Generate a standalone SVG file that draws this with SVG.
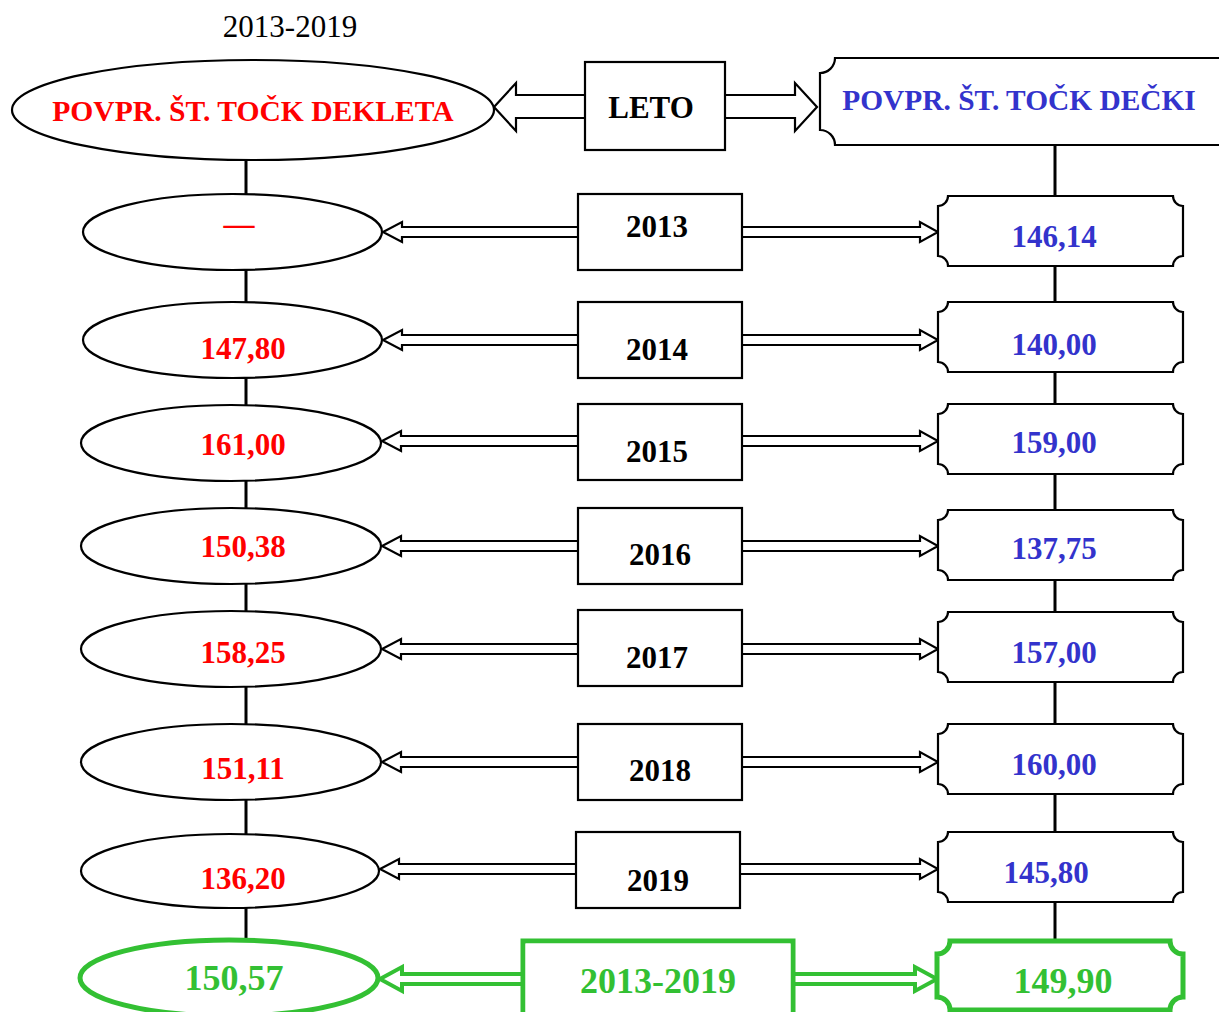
<svg xmlns="http://www.w3.org/2000/svg" width="1219" height="1012" viewBox="0 0 1219 1012">
<style>
text{font-family:"Liberation Serif","Times New Roman",serif;font-weight:bold;text-anchor:middle}
.b{fill:#fff;stroke:#000;stroke-width:2.2}
.g{fill:#fff;stroke:#33C033;stroke-width:5}
.ga{fill:#fff;stroke:#33C033;stroke-width:4}
.ln{stroke:#000;stroke-width:3}
.r{fill:#FF0000;font-size:31px}
.u{fill:#3333CC;font-size:31px}
.k{fill:#000;font-size:31px}
.gt{fill:#33C033;font-size:36px}
</style>
<text x="290" y="37" style="font-weight:normal;font-size:31px;fill:#000">2013-2019</text>
<g id="connectors">
<line class="ln" x1="246" y1="160" x2="246" y2="945"/>
<line class="ln" x1="1055" y1="145" x2="1055" y2="945"/>
<path class="b" d="M586,95 H516 V83 L494,107 L516,131 V118 H586"/>
<path class="b" d="M724,95 H795 V83 L817,107 L795,131 V118 H724"/>
<path class="b" d="M579.5,227 H402 V222 L383,232 L402,242 V237 H579.5"/>
<path class="b" d="M740.5,227 H920 V222 L938,232 L920,242 V237 H740.5"/>
<path class="b" d="M579.5,335 H402 V330 L383,340 L402,350 V345 H579.5"/>
<path class="b" d="M740.5,335 H920 V330 L938,340 L920,350 V345 H740.5"/>
<path class="b" d="M579.5,436 H401 V431 L382,441 L401,451 V446 H579.5"/>
<path class="b" d="M740.5,436 H920 V431 L938,441 L920,451 V446 H740.5"/>
<path class="b" d="M579.5,541 H401 V536 L382,546 L401,556 V551 H579.5"/>
<path class="b" d="M740.5,541 H920 V536 L938,546 L920,556 V551 H740.5"/>
<path class="b" d="M579.5,644 H401 V639 L382,649 L401,659 V654 H579.5"/>
<path class="b" d="M740.5,644 H920 V639 L938,649 L920,659 V654 H740.5"/>
<path class="b" d="M579.5,757 H401 V752 L382,762 L401,772 V767 H579.5"/>
<path class="b" d="M740.5,757 H920 V752 L938,762 L920,772 V767 H740.5"/>
<path class="b" d="M577.5,864 H399 V859 L380,869 L399,879 V874 H577.5"/>
<path class="b" d="M738.5,864 H920 V859 L938,869 L920,879 V874 H738.5"/>
</g>
<g id="n-dekleta"><ellipse class="b" cx="253" cy="110" rx="241" ry="50"/><text x="253" y="121" style="fill:#FF0000;font-size:29.6px">POVPR. ŠT. TOČK DEKLETA</text></g>
<g id="n-leto"><rect class="b" x="585" y="62" width="140" height="88"/><text class="k" x="651" y="118">LETO</text></g>
<g id="n-decki"><path class="b" d="M835,58 H1225 A15 15 0 0 0 1240,73 V130 A15 15 0 0 0 1225,145 H835 A15 15 0 0 0 820,130 V73 A15 15 0 0 0 835,58 Z"/><text x="1019" y="110" style="fill:#3333CC;font-size:29.4px">POVPR. ŠT. TOČK DEČKI</text></g>

<g id="row-2013">
<ellipse class="b" cx="232.5" cy="232" rx="149.5" ry="38"/><text class="r" x="239" y="234">—</text>
<rect class="b" x="578" y="194" width="164" height="76"/><text class="k" x="657" y="237">2013</text>
<path class="b" d="M948,196 H1173 A10 10 0 0 0 1183,206 V256 A10 10 0 0 0 1173,266 H948 A10 10 0 0 0 938,256 V206 A10 10 0 0 0 948,196 Z"/><text class="u" x="1054" y="247">146,14</text>
</g>
<g id="row-2014">
<ellipse class="b" cx="232.5" cy="340" rx="149.5" ry="38"/><text class="r" x="243" y="359">147,80</text>
<rect class="b" x="578" y="302" width="164" height="76"/><text class="k" x="657" y="360">2014</text>
<path class="b" d="M948,302 H1173 A10 10 0 0 0 1183,312 V362 A10 10 0 0 0 1173,372 H948 A10 10 0 0 0 938,362 V312 A10 10 0 0 0 948,302 Z"/><text class="u" x="1054" y="355">140,00</text>
</g>
<g id="row-2015">
<ellipse class="b" cx="231" cy="443" rx="150" ry="38"/><text class="r" x="243" y="455">161,00</text>
<rect class="b" x="578" y="404" width="164" height="76"/><text class="k" x="657" y="462">2015</text>
<path class="b" d="M948,404 H1173 A10 10 0 0 0 1183,414 V464 A10 10 0 0 0 1173,474 H948 A10 10 0 0 0 938,464 V414 A10 10 0 0 0 948,404 Z"/><text class="u" x="1054" y="453">159,00</text>
</g>
<g id="row-2016">
<ellipse class="b" cx="231" cy="546" rx="150" ry="38"/><text class="r" x="243" y="557">150,38</text>
<rect class="b" x="578" y="508" width="164" height="76"/><text class="k" x="660" y="565">2016</text>
<path class="b" d="M948,510 H1173 A10 10 0 0 0 1183,520 V570 A10 10 0 0 0 1173,580 H948 A10 10 0 0 0 938,570 V520 A10 10 0 0 0 948,510 Z"/><text class="u" x="1054" y="559">137,75</text>
</g>
<g id="row-2017">
<ellipse class="b" cx="231" cy="649" rx="150" ry="38"/><text class="r" x="243" y="663">158,25</text>
<rect class="b" x="578" y="610" width="164" height="76"/><text class="k" x="657" y="668">2017</text>
<path class="b" d="M948,612 H1173 A10 10 0 0 0 1183,622 V672 A10 10 0 0 0 1173,682 H948 A10 10 0 0 0 938,672 V622 A10 10 0 0 0 948,612 Z"/><text class="u" x="1054" y="663">157,00</text>
</g>
<g id="row-2018">
<ellipse class="b" cx="231" cy="762" rx="150" ry="38"/><text class="r" x="243" y="779">151,11</text>
<rect class="b" x="578" y="724" width="164" height="76"/><text class="k" x="660" y="781">2018</text>
<path class="b" d="M948,724 H1173 A10 10 0 0 0 1183,734 V784 A10 10 0 0 0 1173,794 H948 A10 10 0 0 0 938,784 V734 A10 10 0 0 0 948,724 Z"/><text class="u" x="1054" y="775">160,00</text>
</g>
<g id="row-2019">
<ellipse class="b" cx="230" cy="871" rx="149" ry="37"/><text class="r" x="243" y="889">136,20</text>
<rect class="b" x="576" y="832" width="164" height="76"/><text class="k" x="658" y="891">2019</text>
<path class="b" d="M948,832 H1173 A10 10 0 0 0 1183,842 V892 A10 10 0 0 0 1173,902 H948 A10 10 0 0 0 938,892 V842 A10 10 0 0 0 948,832 Z"/><text class="u" x="1046" y="883">145,80</text>
</g>
<g id="row-total">
<path class="ga" d="M525,974 H402 V967 L380,979 L402,991 V984 H525"/>
<path class="ga" d="M792,974 H915 V967 L937,979 L915,991 V984 H792"/>
<line x1="402" y1="979" x2="524" y2="979" stroke="#fff" stroke-width="1.5"/>
<line x1="793" y1="979" x2="915" y2="979" stroke="#fff" stroke-width="1.5"/>
<ellipse class="g" cx="229" cy="978" rx="149" ry="38"/><text class="gt" x="234" y="990">150,57</text>
<path class="g" d="M523,1030 V941 H793 V1030"/><rect x="525.5" y="943.5" width="265" height="80" fill="#fff"/><text class="gt" x="658" y="993">2013-2019</text>
<path class="g" d="M950,941 H1170 A13 13 0 0 0 1183,954 V997 A13 13 0 0 0 1170,1010 H950 A13 13 0 0 0 937,997 V954 A13 13 0 0 0 950,941 Z"/><text class="gt" x="1063" y="993">149,90</text>
</g>
</svg>
